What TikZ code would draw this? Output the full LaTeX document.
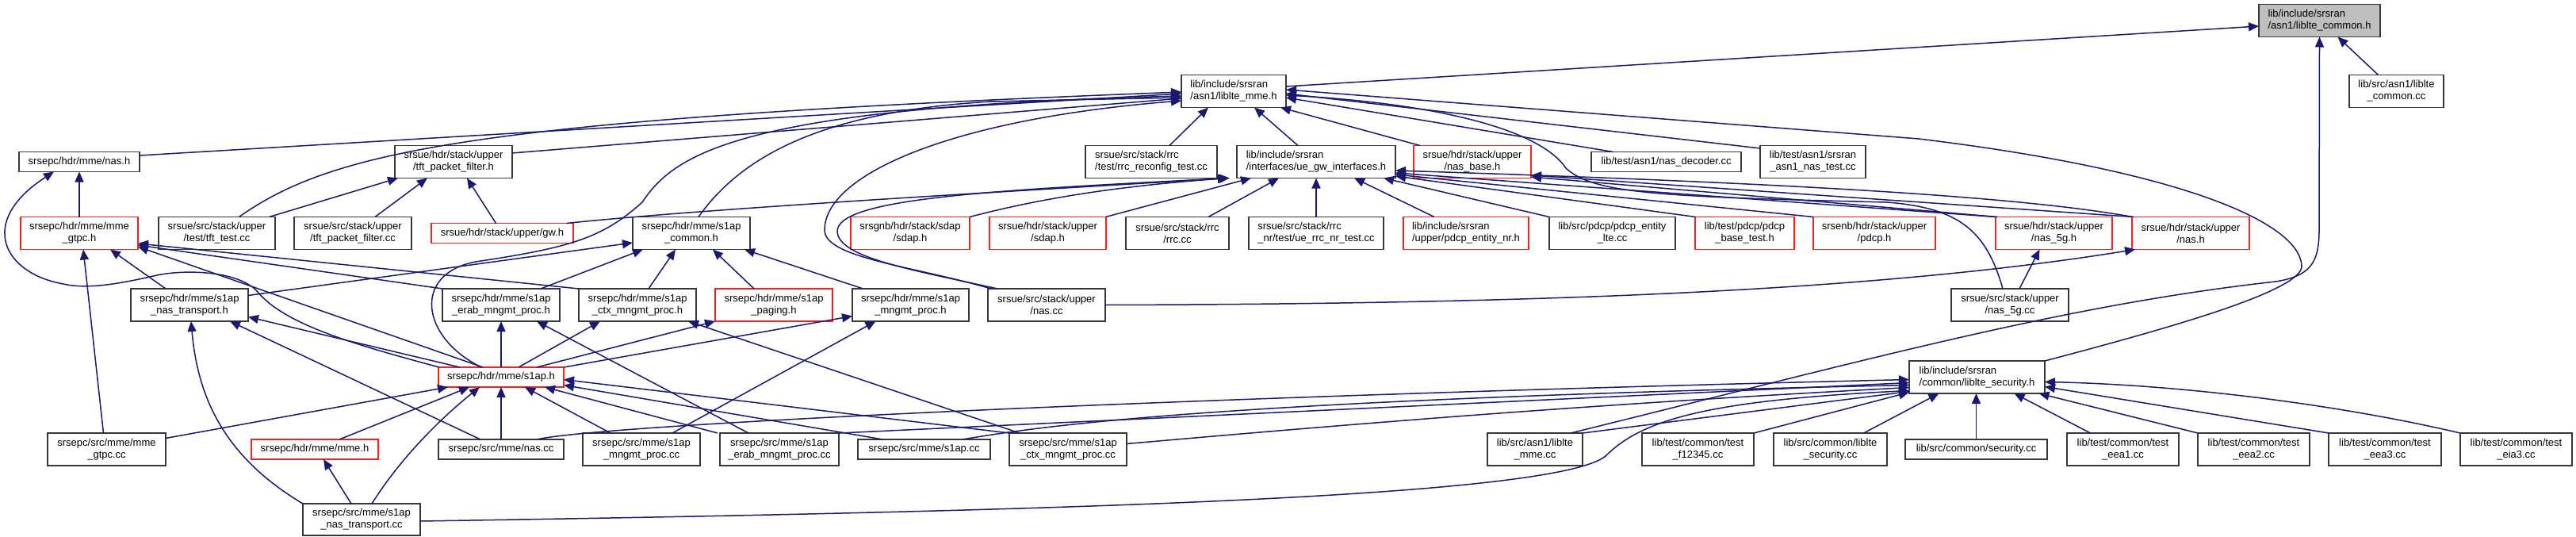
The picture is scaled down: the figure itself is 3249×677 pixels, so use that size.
\documentclass[tikz,border=0pt]{standalone}
\usepackage{fontspec}
\setmainfont{Liberation Sans}
\usetikzlibrary{arrows.meta}
\definecolor{edgeblue}{RGB}{25,25,112}
\definecolor{nodeborder}{RGB}{55,55,55}
\definecolor{grayfill}{RGB}{191,191,191}
\definecolor{redborder}{RGB}{255,30,30}
\begin{document}
\begin{tikzpicture}[x=1pt,y=-1pt,
  box/.style={rectangle, draw=nodeborder, line width=1.6pt, inner sep=0pt, outer sep=0pt, font=\fontsize{13}{15}\selectfont, align=center, text=black},
  redbox/.style={box, draw=redborder},
  two/.style={minimum height=41pt},
  one/.style={minimum height=25pt},
  edge/.style={draw=edgeblue, line width=1.5pt, -{Triangle[length=13pt,width=11pt]}}]
\fill[white] (0,0) rectangle (3249,677);
\useasboundingbox (0,0) rectangle (3249,677);
% row 0
\node[box, fill=grayfill, align=left, minimum width=153pt, two] (common_h) at (2925.5,26) {lib/include/srsran\\/asn1/liblte\_common.h};
% row 1
\node[box, align=left, minimum width=132pt, two] (mme_h) at (1556,115) {lib/include/srsran\\/asn1/liblte\_mme.h};
\node[box, minimum width=119pt, two] (common_cc) at (3022.5,115) {lib/src/asn1/liblte\\\_common.cc};
% row 2
\node[box, minimum width=152pt, one] (epc_nas_h) at (100,204) {srsepc/hdr/mme/nas.h};
\node[box, minimum width=148pt, two] (tft_h) at (572,204) {srsue/hdr/stack/upper\\/tft\_packet\_filter.h};
\node[box, align=left, minimum width=166pt, two] (rrc_reconf) at (1452,204) {srsue/src/stack/rrc\\/test/rrc\_reconfig\_test.cc};
\node[box, align=left, minimum width=200pt, two] (uegw) at (1660,204) {lib/include/srsran\\/interfaces/ue\_gw\_interfaces.h};
\node[redbox, minimum width=148pt, two] (nas_base) at (1857,204) {srsue/hdr/stack/upper\\/nas\_base.h};
\node[box, minimum width=189pt, one] (nas_dec) at (2101.5,204) {lib/test/asn1/nas\_decoder.cc};
\node[box, minimum width=133pt, two] (asn1_nas_test) at (2286.5,204) {lib/test/asn1/srsran\\\_asn1\_nas\_test.cc};
% row 3
\node[redbox, minimum width=148pt, two] (mme_gtpc_h) at (100,294) {srsepc/hdr/mme/mme\\\_gtpc.h};
\node[box, minimum width=147pt, two] (tft_test) at (273.5,294) {srsue/src/stack/upper\\/test/tft\_test.cc};
\node[box, minimum width=148pt, two] (tft_cc) at (445,294) {srsue/src/stack/upper\\/tft\_packet\_filter.cc};
\node[redbox, minimum width=179pt, one] (gw_h) at (633.5,294) {srsue/hdr/stack/upper/gw.h};
\node[box, minimum width=148pt, two] (s1ap_common) at (872,294) {srsepc/hdr/mme/s1ap\\\_common.h};
\node[redbox, minimum width=150pt, two] (gnb_sdap) at (1148,294) {srsgnb/hdr/stack/sdap\\/sdap.h};
\node[redbox, minimum width=147pt, two] (ue_sdap) at (1321.5,294) {srsue/hdr/stack/upper\\/sdap.h};
\node[box, minimum width=130pt, two] (rrc_cc) at (1485,294) {srsue/src/stack/rrc\\/rrc.cc};
\node[box, align=left, minimum width=170pt, two] (ue_rrc_nr) at (1660,294) {srsue/src/stack/rrc\\\_nr/test/ue\_rrc\_nr\_test.cc};
\node[redbox, align=left, minimum width=158pt, two] (pdcp_nr) at (1849,294) {lib/include/srsran\\/upper/pdcp\_entity\_nr.h};
\node[box, minimum width=159pt, two] (pdcp_lte) at (2033.5,294) {lib/src/pdcp/pdcp\_entity\\\_lte.cc};
\node[redbox, minimum width=125pt, two] (pdcp_test) at (2200.5,294) {lib/test/pdcp/pdcp\\\_base\_test.h};
\node[redbox, minimum width=154pt, two] (enb_pdcp) at (2364,294) {srsenb/hdr/stack/upper\\/pdcp.h};
\node[redbox, minimum width=147pt, two] (nas5g_h) at (2590.5,294) {srsue/hdr/stack/upper\\/nas\_5g.h};
\node[redbox, minimum width=148pt, two] (ue_nas_h) at (2763,294) {srsue/hdr/stack/upper\\/nas.h};
% row 4
\node[box, minimum width=148pt, two] (nas_tr_h) at (239,384.5) {srsepc/hdr/mme/s1ap\\\_nas\_transport.h};
\node[box, minimum width=148pt, two] (erab_h) at (632,384.5) {srsepc/hdr/mme/s1ap\\\_erab\_mngmt\_proc.h};
\node[box, minimum width=148pt, two] (ctx_h) at (804,384.5) {srsepc/hdr/mme/s1ap\\\_ctx\_mngmt\_proc.h};
\node[redbox, minimum width=148pt, two] (paging_h) at (976,384.5) {srsepc/hdr/mme/s1ap\\\_paging.h};
\node[box, minimum width=147pt, two] (mngmt_h) at (1148.5,384.5) {srsepc/hdr/mme/s1ap\\\_mngmt\_proc.h};
\node[box, minimum width=148pt, two] (ue_nas_cc) at (1320,384.5) {srsue/src/stack/upper\\/nas.cc};
\node[box, minimum width=148pt, two] (nas5g_cc) at (2535,384.5) {srsue/src/stack/upper\\/nas\_5g.cc};
% row 4.5
\node[redbox, minimum width=158pt, one] (s1ap_h) at (632,475.5) {srsepc/hdr/mme/s1ap.h};
\node[box, align=left, minimum width=171pt, two] (sec_h) at (2493.5,475.5) {lib/include/srsran\\/common/liblte\_security.h};
% row 5
\node[box, minimum width=149pt, two] (mme_gtpc_cc) at (134.5,566.5) {srsepc/src/mme/mme\\\_gtpc.cc};
\node[redbox, minimum width=160pt, one] (mme_h_epc) at (397,566.5) {srsepc/hdr/mme/mme.h};
\node[box, minimum width=158pt, one] (epc_nas_cc) at (632,566.5) {srsepc/src/mme/nas.cc};
\node[box, minimum width=148pt, two] (mngmt_cc) at (809,566.5) {srsepc/src/mme/s1ap\\\_mngmt\_proc.cc};
\node[box, minimum width=150pt, two] (erab_cc) at (983,566.5) {srsepc/src/mme/s1ap\\\_erab\_mngmt\_proc.cc};
\node[box, minimum width=167pt, one] (s1ap_cc) at (1165.5,566.5) {srsepc/src/mme/s1ap.cc};
\node[box, minimum width=148pt, two] (ctx_cc) at (1347,566.5) {srsepc/src/mme/s1ap\\\_ctx\_mngmt\_proc.cc};
\node[box, minimum width=120pt, two] (mme_cc) at (1936,566.5) {lib/src/asn1/liblte\\\_mme.cc};
\node[box, minimum width=141pt, two] (f12345) at (2141.5,566.5) {lib/test/common/test\\\_f12345.cc};
\node[box, minimum width=143pt, two] (sec_cc) at (2308.5,566.5) {lib/src/common/liblte\\\_security.cc};
\node[box, minimum width=179pt, one] (security_cc) at (2492.5,566.5) {lib/src/common/security.cc};
\node[box, minimum width=141pt, two] (eea1) at (2677.5,566.5) {lib/test/common/test\\\_eea1.cc};
\node[box, minimum width=141pt, two] (eea2) at (2842.5,566.5) {lib/test/common/test\\\_eea2.cc};
\node[box, minimum width=142pt, two] (eea3) at (3008,566.5) {lib/test/common/test\\\_eea3.cc};
\node[box, minimum width=141pt, two] (eia3) at (3173.5,566.5) {lib/test/common/test\\\_eia3.cc};
% row 6
\node[box, minimum width=148pt, minimum height=40pt] (nas_tr_cc) at (456,655) {srsepc/src/mme/s1ap\\\_nas\_transport.cc};

% ---- edges into liblte_common.h
\draw[edge] ([yshift=6pt]mme_h.east) -- ([yshift=-7pt]common_h.west);
\draw[edge] ([xshift=-23pt]common_cc.north) -- ([xshift=23pt]common_h.south);
\draw[edge] ([xshift=45pt]mme_cc.north) .. controls (2350,455) and (2600,385) .. (2870,355) .. controls (2915,348) and (2925,330) .. (2925,290) -- (common_h.south);
% ---- edges into liblte_mme.h
\draw[edge] ([yshift=8pt]epc_nas_h.east) -- ([yshift=-3pt]mme_h.west);
\draw[edge] ([yshift=11pt]tft_h.east) -- ([yshift=-9pt]mme_h.west);
\draw[edge] ([xshift=28pt]tft_test.north) .. controls (420,190) and (600,150) .. ([yshift=-1pt]mme_h.west);
\draw[edge] ([xshift=-25pt]s1ap_h.north) .. controls (530,425) and (520,345) .. (600,330) .. controls (720,312) and (760,300) .. (810,255) .. controls (850,195) and (930,135) .. ([yshift=-6pt]mme_h.west);
\draw[edge] ([xshift=9pt]s1ap_common.north) .. controls (940,190) and (1050,140) .. (1250,128) -- ([yshift=-8pt]mme_h.west);
\draw[edge] ([xshift=-70pt]ue_nas_cc.north) .. controls (1150,335) and (1040,325) .. (1040,290) .. controls (1040,220) and (1200,150) .. ([yshift=-12pt]mme_h.west);
\draw[edge] ([xshift=23pt]rrc_reconf.north) -- ([xshift=-32pt]mme_h.south);
\draw[edge] ([xshift=-23pt]uegw.north) -- ([xshift=26pt]mme_h.south);
\draw[edge] ([xshift=-66pt]nas_base.north) -- ([xshift=59pt]mme_h.south);
\draw[edge] ([xshift=-67pt]nas_dec.north) -- ([yshift=-8pt]mme_h.east);
\draw[edge] ([yshift=17pt]asn1_nas_test.west) -- ([yshift=-3pt]mme_h.east);
\draw[edge] ([xshift=-9pt]nas5g_cc.north) .. controls (2505,290) and (2470,262) .. (2380,255) .. controls (2100,248) and (2010,245) .. (1975,212) .. controls (1940,160) and (1800,130) .. ([yshift=-5pt]mme_h.east);
\draw[edge] (sec_h.north east) .. controls (2750,410) and (2905,365) .. (2903,335) .. controls (2900,280) and (2750,215) .. (2420,175) -- ([yshift=2pt]mme_h.east);
% ---- edges into srsepc nas.h
\draw[edge] (mme_gtpc_h.north) -- (epc_nas_h.south);
\draw[edge] ([xshift=-78pt]s1ap_h.north) .. controls (450,435) and (360,410) .. (325,368) .. controls (300,340) and (230,340) .. (198,347) .. controls (150,358) and (110,365) .. (80,358) .. controls (5,345) and (-30,280) .. ([xshift=-32pt]epc_nas_h.south);
% ---- edges into tft_packet_filter.h
\draw[edge] ([xshift=66pt]tft_test.north) -- ([xshift=-70pt]tft_h.south);
\draw[edge] ([xshift=28pt]tft_cc.north) -- ([xshift=-33pt]tft_h.south);
\draw[edge] ([xshift=-8pt]gw_h.north) -- ([xshift=17pt]tft_h.south);
% ---- edges into ue_gw_interfaces.h
\draw[edge] ([xshift=81pt]gw_h.north) .. controls (900,262) and (1300,240) .. ([xshift=-111pt]uegw.south);
\draw[edge] ([xshift=-62pt]ue_nas_cc.north) .. controls (1150,340) and (1058,325) .. (1056,292) .. controls (1055,250) and (1250,240) .. ([xshift=-109pt]uegw.south);
\draw[edge] ([xshift=75pt]gnb_sdap.north) .. controls (1320,248) and (1420,234) .. ([xshift=-111pt]uegw.south);
\draw[edge] ([xshift=73pt]ue_sdap.north) -- ([xshift=-82pt]uegw.south);
\draw[edge] ([xshift=39pt]rrc_cc.north) -- ([xshift=-47pt]uegw.south);
\draw[edge] (ue_rrc_nr.north) -- (uegw.south);
\draw[edge] ([xshift=-40pt]pdcp_nr.north) -- ([xshift=48pt]uegw.south);
\draw[edge] (pdcp_lte.north west) -- ([xshift=85pt]uegw.south);
\draw[edge] ([xshift=-62pt]pdcp_test.north) -- ([yshift=-18pt]uegw.east);
\draw[edge] (enb_pdcp.north west) -- ([yshift=-16pt]uegw.east);
\draw[edge] ([xshift=-73pt]nas5g_h.north) -- ([yshift=-14pt]uegw.east);
\draw[edge] ([xshift=-73pt]ue_nas_h.north) .. controls (2560,250) and (2300,232) .. ([yshift=-11pt]uegw.east);
% ---- edges into nas_base.h
\draw[edge] ([xshift=-71pt]nas5g_h.north) -- ([yshift=-19pt]nas_base.east);
\draw[edge] ([xshift=-72pt]ue_nas_h.north) -- ([yshift=-17pt]nas_base.east);
% ---- nas_5g.h, nas.h (ue)
\draw[edge] ([xshift=12pt]nas5g_cc.north) -- ([xshift=-18pt]nas5g_h.south);
\draw[edge] (ue_nas_cc.east) .. controls (1900,383) and (2350,370) .. ([xshift=-70pt]ue_nas_h.south);
% ---- edges into s1ap_common.h
\draw[edge] ([yshift=12pt]nas_tr_h.east) -- ([yshift=-12pt]s1ap_common.west);
\draw[edge] ([xshift=50pt]erab_h.north) -- ([xshift=-61pt]s1ap_common.south);
\draw[edge] ([xshift=14pt]ctx_h.north) -- ([xshift=-20pt]s1ap_common.south);
\draw[edge] ([xshift=-25pt]paging_h.north) -- ([xshift=27pt]s1ap_common.south);
\draw[edge] ([xshift=-60pt]mngmt_h.north) -- ([xshift=67pt]s1ap_common.south);
% ---- edges into mme_gtpc.h
\draw[edge] ([xshift=-4pt]mme_gtpc_cc.north) -- ([xshift=5pt]mme_gtpc_h.south);
\draw[edge] ([xshift=-30pt]nas_tr_h.north) -- ([xshift=39pt]mme_gtpc_h.south);
\draw[edge] ([xshift=-23pt]s1ap_h.north) -- ([yshift=-17pt]mme_gtpc_h.east);
\draw[edge] (erab_h.north west) -- ([yshift=-15pt]mme_gtpc_h.east);
\draw[edge] (ctx_h.north west) -- ([yshift=-13pt]mme_gtpc_h.east);
% ---- edges into s1ap_nas_transport.h
\draw[edge] (nas_tr_cc.north west) .. controls (290,580) and (250,510) .. ([xshift=2pt]nas_tr_h.south);
\draw[edge] ([xshift=-26pt]epc_nas_cc.north) -- ([xshift=51pt]nas_tr_h.south);
\draw[edge] ([xshift=-52pt]s1ap_h.north) -- ([yshift=-15pt]nas_tr_h.east);
% ---- edges into s1ap.h
\draw[edge] ([yshift=14pt]mme_gtpc_cc.east) -- ([xshift=-67pt]s1ap_h.south);
\draw[edge] ([xshift=31pt]mme_h_epc.north) -- ([xshift=-40pt]s1ap_h.south);
\draw[edge] ([xshift=13pt]nas_tr_cc.north) .. controls (510,570) and (565,520) .. ([xshift=-27pt]s1ap_h.south);
\draw[edge] (epc_nas_cc.north) -- (s1ap_h.south);
\draw[edge] ([xshift=-39pt]mngmt_cc.north) -- ([xshift=30pt]s1ap_h.south);
\draw[edge] ([xshift=-78pt]erab_cc.north) -- ([xshift=55pt]s1ap_h.south);
\draw[edge] ([xshift=-52pt]s1ap_cc.north) -- ([yshift=-10pt]s1ap_h.east);
\draw[edge] (ctx_cc.north west) -- ([yshift=-3pt]s1ap_h.east);
% ---- edges into s1ap procedure headers
\draw[edge] (s1ap_h.north) -- (erab_h.south);
\draw[edge] ([xshift=-39pt]erab_cc.north) -- ([xshift=45pt]erab_h.south);
\draw[edge] ([xshift=22pt]s1ap_h.north) -- ([xshift=-47pt]ctx_h.south);
\draw[edge] ([xshift=-61pt]ctx_cc.north) -- ([xshift=64pt]ctx_h.south);
\draw[edge] ([xshift=45pt]s1ap_h.north) -- (paging_h.south west);
\draw[edge] (s1ap_h.north east) -- ([yshift=-14pt]mngmt_h.west);
\draw[edge] ([xshift=39pt]mngmt_cc.north) -- ([xshift=-44pt]mngmt_h.south);
\draw[edge] ([xshift=-13pt]nas_tr_cc.north) -- ([xshift=11pt]mme_h_epc.south);
% ---- edges into liblte_security.h
\draw[edge] ([xshift=45pt]epc_nas_cc.north) .. controls (760,535) and (1500,500) .. ([yshift=-3pt]sec_h.west);
\draw[edge] ([xshift=75pt]erab_cc.north) -- ([yshift=-7pt]sec_h.west);
\draw[edge] ([xshift=48pt]s1ap_cc.north) .. controls (1300,540) and (1500,505) .. ([yshift=-10pt]sec_h.west);
\draw[edge] ([yshift=7pt]ctx_cc.east) .. controls (1700,535) and (2000,510) .. ([yshift=-13pt]sec_h.west);
\draw[edge] ([yshift=-2pt]nas_tr_cc.east) .. controls (1300,645) and (1960,628) .. (2025,575) .. controls (2070,530) and (2150,505) .. ([yshift=-17pt]sec_h.west);
\draw[edge] (mme_cc.north east) -- ([yshift=-18pt]sec_h.west);
\draw[edge] (f12345.north east) -- ([yshift=-19pt]sec_h.west);
\draw[edge] ([xshift=42pt]sec_cc.north) -- ([xshift=-48pt]sec_h.south);
\draw[edge] (security_cc.north) -- ([xshift=-1pt]sec_h.south);
\draw[edge] ([xshift=-41pt]eea1.north) -- ([xshift=47pt]sec_h.south);
\draw[edge] (eea2.north west) -- ([xshift=78pt]sec_h.south);
\draw[edge] (eea3.north west) -- ([yshift=-12pt]sec_h.east);
\draw[edge] (eia3.north west) .. controls (2950,510) and (2750,485) .. ([yshift=-6pt]sec_h.east);
\end{tikzpicture}
\end{document}
